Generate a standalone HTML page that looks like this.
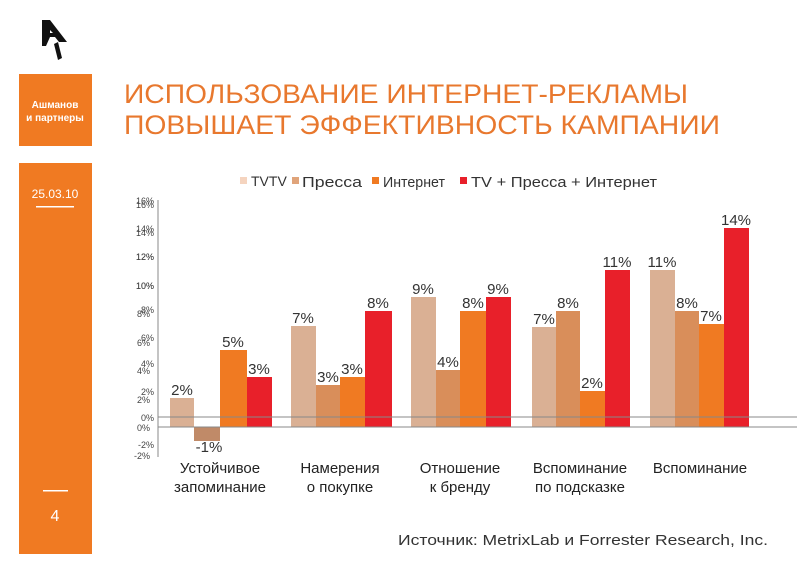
<!DOCTYPE html>
<html><head><meta charset="utf-8"><style>
body{margin:0;width:800px;height:579px;background:#fff;overflow:hidden;font-family:"Liberation Sans","DejaVu Sans",sans-serif}
</style></head><body>
<svg width="800" height="579" xmlns="http://www.w3.org/2000/svg" font-family="Liberation Sans, DejaVu Sans, sans-serif">
<path d="M42 20 L50 20 L67 42 L59 42 L55 37 L50 37 L46 46 L42 46 Z M50 30 L50 33 L53 33 Z" fill="#111"/>
<path d="M54 44 L58 42 L62 58 L58 60 Z" fill="#111"/>
<rect x="19" y="74" width="73" height="72" fill="#f07a22"/>
<text x="55" y="108" fill="#fff" font-size="10" font-weight="bold" text-anchor="middle">Ашманов</text>
<text x="55" y="121" fill="#fff" font-size="10" font-weight="bold" text-anchor="middle">и партнеры</text>
<rect x="19" y="163" width="73" height="391" fill="#f07a22"/>
<text x="55" y="198" fill="#fff" font-size="12" text-anchor="middle">25.03.10</text>
<rect x="36" y="206" width="38" height="1.5" fill="#fff"/>
<rect x="43" y="490" width="25" height="1.5" fill="#fff"/>
<text x="55" y="521" fill="#fff" font-size="16" text-anchor="middle">4</text>
<text x="124" y="103" fill="#e8782e" font-size="27" textLength="564" lengthAdjust="spacingAndGlyphs">ИСПОЛЬЗОВАНИЕ ИНТЕРНЕТ-РЕКЛАМЫ</text>
<text x="124" y="134" fill="#e8782e" font-size="27" textLength="596" lengthAdjust="spacingAndGlyphs">ПОВЫШАЕТ ЭФФЕКТИВНОСТЬ КАМПАНИИ</text>
<g font-size="14" fill="#333">
<rect x="240" y="177" width="7" height="7" fill="#f5d4bf"/><text x="251" y="186">TVTV</text>
<rect x="292" y="177" width="7" height="7" fill="#e0a47a"/><text x="302" y="187" font-size="15" textLength="60" lengthAdjust="spacingAndGlyphs">Пресса</text>
<rect x="372" y="177" width="7" height="7" fill="#f07a22"/><text x="383" y="187" font-size="15" textLength="62" lengthAdjust="spacingAndGlyphs">Интернет</text>
<rect x="460" y="177" width="7" height="7" fill="#e8202a"/><text x="471" y="187" font-size="15" textLength="186" lengthAdjust="spacingAndGlyphs">TV + Пресса + Интернет</text>
</g>
<line x1="158" y1="200" x2="158" y2="457" stroke="#888"/>
<g font-size="9" fill="#444" text-anchor="end">
<text x="154" y="204">16%</text><text x="154" y="232">14%</text><text x="154" y="260">12%</text><text x="154" y="289">10%</text><text x="150" y="317">8%</text><text x="150" y="346">6%</text><text x="150" y="374">4%</text><text x="150" y="403">2%</text><text x="150" y="431">0%</text><text x="150" y="459">-2%</text>
<text x="154" y="208">16%</text><text x="154" y="236">14%</text><text x="154" y="260">12%</text><text x="154" y="289">10%</text><text x="154" y="313">8%</text><text x="154" y="341">6%</text><text x="154" y="367">4%</text><text x="154" y="395">2%</text><text x="154" y="421">0%</text><text x="154" y="448">-2%</text>
</g>
<g>
<rect x="170" y="398" width="24" height="29" fill="#dab094"/>
<rect x="194" y="427" width="26" height="14" fill="#c08a68"/>
<rect x="220" y="350" width="27" height="77" fill="#f07a22"/>
<rect x="247" y="377" width="25" height="50" fill="#e8202a"/>
<rect x="291" y="326" width="25" height="101" fill="#dab094"/>
<rect x="316" y="385" width="24" height="42" fill="#d98e5a"/>
<rect x="340" y="377" width="25" height="50" fill="#f07a22"/>
<rect x="365" y="311" width="27" height="116" fill="#e8202a"/>
<rect x="411" y="297" width="25" height="130" fill="#dab094"/>
<rect x="436" y="370" width="24" height="57" fill="#d98e5a"/>
<rect x="460" y="311" width="26" height="116" fill="#f07a22"/>
<rect x="486" y="297" width="25" height="130" fill="#e8202a"/>
<rect x="532" y="327" width="24" height="100" fill="#dab094"/>
<rect x="556" y="311" width="24" height="116" fill="#d98e5a"/>
<rect x="580" y="391" width="25" height="36" fill="#f07a22"/>
<rect x="605" y="270" width="25" height="157" fill="#e8202a"/>
<rect x="650" y="270" width="25" height="157" fill="#dab094"/>
<rect x="675" y="311" width="24" height="116" fill="#d98e5a"/>
<rect x="699" y="324" width="25" height="103" fill="#f07a22"/>
<rect x="724" y="228" width="25" height="199" fill="#e8202a"/>
</g>
<line x1="158" y1="417" x2="797" y2="417" stroke="#888"/>
<line x1="158" y1="427" x2="797" y2="427" stroke="#888"/>
<g font-size="15" fill="#333" text-anchor="middle">
<text x="182" y="395">2%</text><text x="209" y="452">-1%</text><text x="233" y="347">5%</text><text x="259" y="374">3%</text>
<text x="303" y="323">7%</text><text x="328" y="382">3%</text><text x="352" y="374">3%</text><text x="378" y="308">8%</text>
<text x="423" y="294">9%</text><text x="448" y="367">4%</text><text x="473" y="308">8%</text><text x="498" y="294">9%</text>
<text x="544" y="324">7%</text><text x="568" y="308">8%</text><text x="592" y="388">2%</text><text x="617" y="267">11%</text>
<text x="662" y="267">11%</text><text x="687" y="308">8%</text><text x="711" y="321">7%</text><text x="736" y="225">14%</text>
</g>
<g font-size="15" fill="#222" text-anchor="middle">
<text x="220" y="473">Устойчивое</text><text x="220" y="492">запоминание</text>
<text x="340" y="473">Намерения</text><text x="340" y="492">о покупке</text>
<text x="460" y="473">Отношение</text><text x="460" y="492">к бренду</text>
<text x="580" y="473">Вспоминание</text><text x="580" y="492">по подсказке</text>
<text x="700" y="473">Вспоминание</text>
</g>
<text x="398" y="545" font-size="15" fill="#333" textLength="370" lengthAdjust="spacingAndGlyphs">Источник: MetrixLab и Forrester Research, Inc.</text>
</svg>
</body></html>
